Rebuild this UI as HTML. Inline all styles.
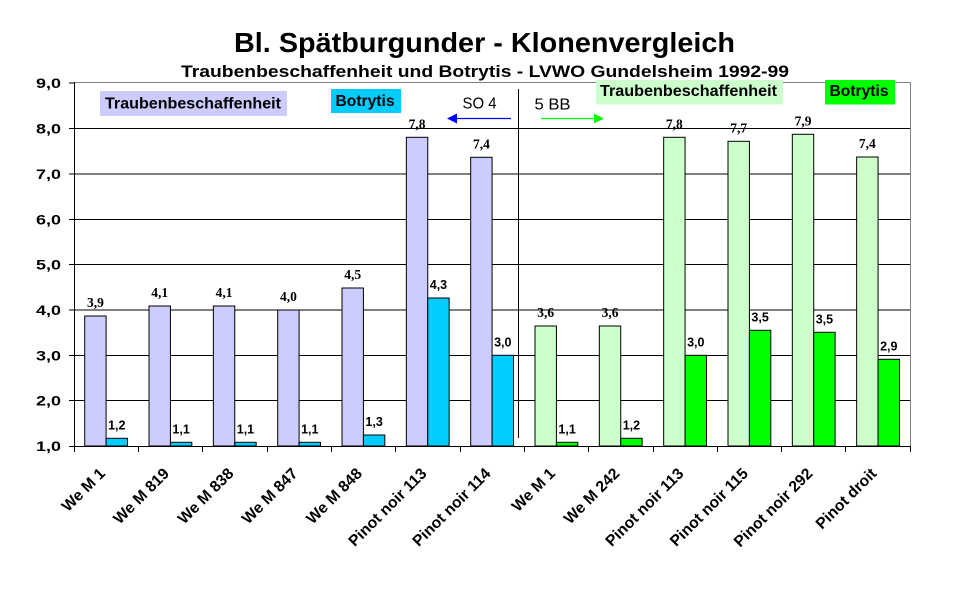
<!DOCTYPE html>
<html>
<head>
<meta charset="utf-8">
<style>
html,body{margin:0;padding:0;background:#fff;}
svg{display:block;}
.ax{font-family:"Liberation Sans",Arial,sans-serif;font-weight:bold;font-size:14px;fill:#000;}
.xl{font-family:"Liberation Sans",Arial,sans-serif;font-weight:bold;font-size:15.7px;fill:#000;}
.vs{font-family:"Liberation Serif","Times New Roman",serif;font-weight:bold;font-size:13.5px;fill:#000;}
.vb{font-family:"Liberation Sans",Arial,sans-serif;font-weight:bold;font-size:12.5px;fill:#000;}
.lg{font-family:"Liberation Sans",Arial,sans-serif;font-weight:bold;font-size:16px;fill:#000;}
.nm{font-family:"Liberation Sans",Arial,sans-serif;font-size:15.5px;fill:#000;}
</style>
</head>
<body>
<svg width="970" height="604" viewBox="0 0 970 604" xmlns="http://www.w3.org/2000/svg">
<rect x="0" y="0" width="970" height="604" fill="#fff"/>

<!-- Titles -->
<text x="234" y="52" font-family="Liberation Sans, Arial, sans-serif" font-weight="bold" font-size="28" textLength="501" lengthAdjust="spacingAndGlyphs">Bl. Spätburgunder - Klonenvergleich</text>
<text x="181" y="77" font-family="Liberation Sans, Arial, sans-serif" font-weight="bold" font-size="16.5" textLength="608" lengthAdjust="spacingAndGlyphs">Traubenbeschaffenheit und Botrytis - LVWO Gundelsheim 1992-99</text>

<!-- plot border (gray top/right) -->
<line x1="74" y1="82.5" x2="910.5" y2="82.5" stroke="#808080" stroke-width="1"/>
<line x1="910.5" y1="82.5" x2="910.5" y2="446" stroke="#808080" stroke-width="1"/>

<!-- gridlines -->
<g stroke="#000" stroke-width="1" shape-rendering="crispEdges">
<line x1="74" y1="128.5" x2="910" y2="128.5"/>
<line x1="74" y1="174" x2="910" y2="174"/>
<line x1="74" y1="219.5" x2="910" y2="219.5"/>
<line x1="74" y1="264.5" x2="910" y2="264.5"/>
<line x1="74" y1="310" x2="910" y2="310"/>
<line x1="74" y1="355.5" x2="910" y2="355.5"/>
<line x1="74" y1="400.5" x2="910" y2="400.5"/>
</g>

<!-- legend boxes -->
<rect x="100" y="91" width="187" height="25" fill="#CCCCFF"/>
<text class="lg" x="105" y="108.5" textLength="176" lengthAdjust="spacingAndGlyphs">Traubenbeschaffenheit</text>
<rect x="331" y="89" width="70" height="24" fill="#00CCFF"/>
<text class="lg" x="335.5" y="106" textLength="59" lengthAdjust="spacingAndGlyphs">Botrytis</text>
<text class="nm" x="462.5" y="108.5" textLength="34" lengthAdjust="spacingAndGlyphs">SO 4</text>
<line x1="511" y1="118.5" x2="455" y2="118.5" stroke="#0000FF" stroke-width="1.2"/>
<polygon points="447,118.5 457,113.5 457,123.5" fill="#0000FF"/>
<line x1="518.5" y1="89" x2="518.5" y2="438" stroke="#000" stroke-width="1"/>
<text class="nm" x="534.5" y="109.5" textLength="36" lengthAdjust="spacingAndGlyphs">5 BB</text>
<line x1="541" y1="118.5" x2="596" y2="118.5" stroke="#00FF00" stroke-width="1.2"/>
<polygon points="604,118.5 594,113.5 594,123.5" fill="#00FF00"/>
<rect x="596" y="80" width="187" height="24.5" fill="#CCFFCC"/>
<text class="lg" x="600" y="96" textLength="177" lengthAdjust="spacingAndGlyphs">Traubenbeschaffenheit</text>
<rect x="825" y="80" width="70" height="24.5" fill="#00FF00"/>
<text class="lg" x="829.5" y="96" textLength="59" lengthAdjust="spacingAndGlyphs">Botrytis</text>

<!-- bars series 1 -->
<g stroke="#000" stroke-width="1">
<rect x="84.7" y="316" width="21.4" height="130" fill="#CCCCFF"/>
<rect x="149.03" y="306" width="21.4" height="140" fill="#CCCCFF"/>
<rect x="213.36" y="306" width="21.4" height="140" fill="#CCCCFF"/>
<rect x="277.69" y="310" width="21.4" height="136" fill="#CCCCFF"/>
<rect x="342.02" y="288" width="21.4" height="158" fill="#CCCCFF"/>
<rect x="406.35" y="137.3" width="21.4" height="308.7" fill="#CCCCFF"/>
<rect x="470.68" y="157.3" width="21.4" height="288.7" fill="#CCCCFF"/>
<rect x="535.01" y="326" width="21.4" height="120" fill="#CCFFCC"/>
<rect x="599.34" y="326" width="21.4" height="120" fill="#CCFFCC"/>
<rect x="663.67" y="137.3" width="21.4" height="308.7" fill="#CCFFCC"/>
<rect x="728.0" y="141.3" width="21.4" height="304.7" fill="#CCFFCC"/>
<rect x="792.33" y="134.3" width="21.4" height="311.7" fill="#CCFFCC"/>
<rect x="856.66" y="157" width="21.4" height="289" fill="#CCFFCC"/>
<!-- bars series 2 -->
<rect x="106.1" y="438.3" width="21.4" height="7.7" fill="#00CCFF"/>
<rect x="170.43" y="442.3" width="21.4" height="3.7" fill="#00CCFF"/>
<rect x="234.76" y="442.3" width="21.4" height="3.7" fill="#00CCFF"/>
<rect x="299.09" y="442.3" width="21.4" height="3.7" fill="#00CCFF"/>
<rect x="363.42" y="435" width="21.4" height="11" fill="#00CCFF"/>
<rect x="427.75" y="298" width="21.4" height="148" fill="#00CCFF"/>
<rect x="492.08" y="355.3" width="21.4" height="90.7" fill="#00CCFF"/>
<rect x="556.41" y="442.3" width="21.4" height="3.7" fill="#00FF00"/>
<rect x="620.74" y="438.3" width="21.4" height="7.7" fill="#00FF00"/>
<rect x="685.07" y="355.3" width="21.4" height="90.7" fill="#00FF00"/>
<rect x="749.4" y="330.3" width="21.4" height="115.7" fill="#00FF00"/>
<rect x="813.73" y="332.3" width="21.4" height="113.7" fill="#00FF00"/>
<rect x="878.06" y="359.3" width="21.4" height="86.7" fill="#00FF00"/>
</g>

<!-- axes -->
<g stroke="#000" stroke-width="1" shape-rendering="crispEdges">
<line x1="74.5" y1="82" x2="74.5" y2="446"/>
<line x1="74" y1="446.5" x2="911" y2="446.5"/>
<line x1="69" y1="83" x2="74" y2="83"/>
<line x1="69" y1="128.5" x2="74" y2="128.5"/>
<line x1="69" y1="174" x2="74" y2="174"/>
<line x1="69" y1="219.5" x2="74" y2="219.5"/>
<line x1="69" y1="264.5" x2="74" y2="264.5"/>
<line x1="69" y1="310" x2="74" y2="310"/>
<line x1="69" y1="355.5" x2="74" y2="355.5"/>
<line x1="69" y1="400.5" x2="74" y2="400.5"/>
<line x1="69" y1="446.5" x2="74" y2="446.5"/>
<line x1="74.5" y1="446" x2="74.5" y2="452"/>
<line x1="138.5" y1="446" x2="138.5" y2="452"/>
<line x1="202.5" y1="446" x2="202.5" y2="452"/>
<line x1="267.5" y1="446" x2="267.5" y2="452"/>
<line x1="331.5" y1="446" x2="331.5" y2="452"/>
<line x1="395.5" y1="446" x2="395.5" y2="452"/>
<line x1="460.5" y1="446" x2="460.5" y2="452"/>
<line x1="524.5" y1="446" x2="524.5" y2="452"/>
<line x1="588.5" y1="446" x2="588.5" y2="452"/>
<line x1="653.5" y1="446" x2="653.5" y2="452"/>
<line x1="717.5" y1="446" x2="717.5" y2="452"/>
<line x1="781.5" y1="446" x2="781.5" y2="452"/>
<line x1="845.5" y1="446" x2="845.5" y2="452"/>
<line x1="910.5" y1="446" x2="910.5" y2="452"/>
</g>

<!-- y labels -->
<g class="ax" text-anchor="end">
<text x="61" y="88" textLength="25" lengthAdjust="spacingAndGlyphs">9,0</text>
<text x="61" y="133.5" textLength="25" lengthAdjust="spacingAndGlyphs">8,0</text>
<text x="61" y="179" textLength="25" lengthAdjust="spacingAndGlyphs">7,0</text>
<text x="61" y="224.5" textLength="25" lengthAdjust="spacingAndGlyphs">6,0</text>
<text x="61" y="269.5" textLength="25" lengthAdjust="spacingAndGlyphs">5,0</text>
<text x="61" y="315" textLength="25" lengthAdjust="spacingAndGlyphs">4,0</text>
<text x="61" y="360.5" textLength="25" lengthAdjust="spacingAndGlyphs">3,0</text>
<text x="61" y="405.5" textLength="25" lengthAdjust="spacingAndGlyphs">2,0</text>
<text x="61" y="451" textLength="25" lengthAdjust="spacingAndGlyphs">1,0</text>
</g>

<!-- value labels series 1 -->
<g class="vs" text-anchor="middle">
<text x="95.4" y="307">3,9</text>
<text x="159.73" y="297">4,1</text>
<text x="224.06" y="297">4,1</text>
<text x="288.39" y="301">4,0</text>
<text x="352.72" y="279">4,5</text>
<text x="417.05" y="128.3">7,8</text>
<text x="481.38" y="148.3">7,4</text>
<text x="545.71" y="317">3,6</text>
<text x="610.04" y="317">3,6</text>
<text x="674.37" y="128.3">7,8</text>
<text x="738.7" y="132.3">7,7</text>
<text x="803.03" y="125.3">7,9</text>
<text x="867.36" y="148">7,4</text>
</g>
<!-- value labels series 2 -->
<g class="vb" text-anchor="middle">
<text x="116.8" y="429.3">1,2</text>
<text x="181.13" y="433.3">1,1</text>
<text x="245.46" y="433.3">1,1</text>
<text x="309.79" y="433.3">1,1</text>
<text x="374.12" y="426">1,3</text>
<text x="438.45" y="289">4,3</text>
<text x="502.78" y="346.3">3,0</text>
<text x="567.11" y="433.3">1,1</text>
<text x="631.44" y="429.3">1,2</text>
<text x="695.77" y="346.3">3,0</text>
<text x="760.1" y="321.3">3,5</text>
<text x="824.43" y="323.3">3,5</text>
<text x="888.76" y="350.3">2,9</text>
</g>

<!-- x labels -->
<g class="xl" text-anchor="end">
<text transform="translate(106,474.5) rotate(-45)">We M 1</text>
<text transform="translate(170,474.5) rotate(-45)">We M 819</text>
<text transform="translate(234.5,474.5) rotate(-45)">We M 838</text>
<text transform="translate(298.5,474.5) rotate(-45)">We M 847</text>
<text transform="translate(363,474.5) rotate(-45)">We M 848</text>
<text transform="translate(427.5,474.5) rotate(-45)">Pinot noir 113</text>
<text transform="translate(491.5,474.5) rotate(-45)">Pinot noir 114</text>
<text transform="translate(556,474.5) rotate(-45)">We M 1</text>
<text transform="translate(620.5,474.5) rotate(-45)">We M 242</text>
<text transform="translate(684.5,474.5) rotate(-45)">Pinot noir 113</text>
<text transform="translate(749,474.5) rotate(-45)">Pinot noir 115</text>
<text transform="translate(813.5,474.5) rotate(-45)">Pinot noir 292</text>
<text transform="translate(877.5,474.5) rotate(-45)">Pinot droit</text>
</g>
</svg>
</body>
</html>
